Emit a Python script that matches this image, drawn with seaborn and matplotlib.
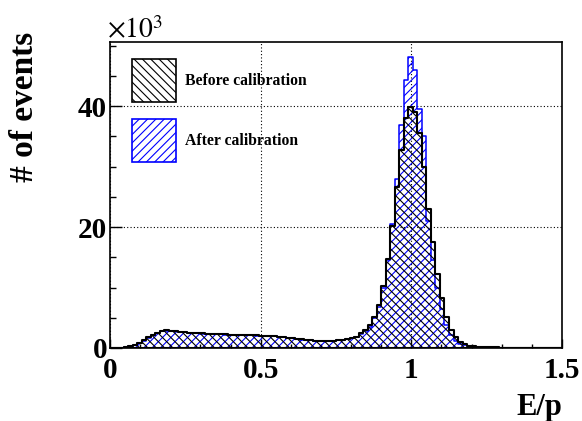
import numpy as np
import pandas as pd
import matplotlib
matplotlib.use("Agg")
import matplotlib.pyplot as plt
import seaborn as sns
from matplotlib.patches import Patch
from matplotlib.ticker import MultipleLocator, FuncFormatter

# Histogram binning of E/p
E_LOW, E_HIGH, N_BINS = 0.0, 1.5, 100

# Events per bin, in thousands
before_k = [
    0.02, 0.04, 0.08, 0.15, 0.25, 0.45, 0.80, 1.25, 1.75, 2.20,
    2.55, 2.80, 2.90, 2.85, 2.78, 2.70, 2.62, 2.55, 2.50, 2.45,
    2.40, 2.36, 2.33, 2.30, 2.27, 2.24, 2.22, 2.20, 2.18, 2.15,
    2.12, 2.10, 2.07, 2.05, 2.02, 1.98, 1.93, 1.87, 1.80, 1.72,
    1.62, 1.52, 1.42, 1.34, 1.27, 1.22, 1.20, 1.19, 1.20, 1.24,
    1.30, 1.38, 1.50, 1.65, 1.90, 2.40, 3.00, 3.80, 5.20, 7.10,
    10.20, 14.80, 20.10, 26.70, 32.70, 38.00, 39.90, 39.10, 35.50, 30.00,
    23.00, 17.50, 12.20, 8.20, 5.20, 3.00, 1.80, 1.00, 0.60, 0.40,
    0.28, 0.21, 0.16, 0.13, 0.11, 0.09, 0.08, 0.07, 0.06, 0.05,
    0.05, 0.04, 0.04, 0.03, 0.03, 0.03, 0.02, 0.02, 0.02, 0.02,
]
after_k = [
    0.02, 0.04, 0.08, 0.15, 0.25, 0.44, 0.78, 1.22, 1.72, 2.17,
    2.52, 2.77, 2.87, 2.83, 2.76, 2.68, 2.60, 2.53, 2.48, 2.43,
    2.38, 2.34, 2.31, 2.28, 2.25, 2.22, 2.20, 2.18, 2.16, 2.13,
    2.10, 2.08, 2.05, 2.03, 2.00, 1.96, 1.91, 1.85, 1.78, 1.70,
    1.60, 1.50, 1.40, 1.32, 1.25, 1.20, 1.18, 1.17, 1.18, 1.21,
    1.26, 1.33, 1.44, 1.60, 1.80, 2.25, 2.80, 3.50, 4.90, 6.80,
    10.00, 14.60, 20.50, 28.00, 36.80, 44.30, 48.20, 46.00, 39.50, 35.00,
    21.00, 14.50, 10.00, 6.50, 3.80, 2.20, 1.20, 0.70, 0.42, 0.28,
    0.20, 0.15, 0.12, 0.10, 0.08, 0.07, 0.06, 0.05, 0.05, 0.04,
    0.04, 0.03, 0.03, 0.03, 0.02, 0.02, 0.02, 0.02, 0.01, 0.01,
]
series_labels = ["Before calibration", "After calibration"]
x_ticks = [0, 0.5, 1, 1.5]
y_ticks = [0, 20, 40]

edges = np.linspace(E_LOW, E_HIGH, N_BINS + 1)
centers = 0.5 * (edges[:-1] + edges[1:])
bin_edges = [float(e) for e in edges]

df = pd.DataFrame({
    "ep": np.concatenate([centers, centers]),
    "k": before_k + after_k,
    "sample": [series_labels[0]] * N_BINS + [series_labels[1]] * N_BINS,
})

sns.set_theme(style="ticks")
plt.rcParams["font.family"] = ["Liberation Serif", "DejaVu Serif"]
plt.rcParams["mathtext.fontset"] = "stix"
plt.rcParams["hatch.linewidth"] = 0.8
for key in ("text.color", "axes.labelcolor", "xtick.color", "ytick.color",
            "axes.edgecolor"):
    plt.rcParams[key] = "black"

W, H = 582, 421
fig = plt.figure(figsize=(W / 100, H / 100), dpi=100)
fig.patch.set_facecolor("white")
ax = fig.add_axes([110 / W, 1 - 348 / H, 452 / W, 306 / H])
ax.set_facecolor("white")

BLUE = "#0000ff"
sns.histplot(data=df[df["sample"] == series_labels[1]], x="ep", weights="k",
             bins=bin_edges, element="step", fill=True, alpha=1, color=BLUE,
             facecolor="none", edgecolor=BLUE, hatch="////",
             linewidth=1.1, zorder=2, ax=ax)
sns.histplot(data=df[df["sample"] == series_labels[0]], x="ep", weights="k",
             bins=bin_edges, element="step", fill=True, alpha=1, color="black",
             facecolor="none", edgecolor="black", hatch="\\\\\\\\",
             linewidth=1.5, zorder=3, ax=ax)

ax.set_xlim(E_LOW, E_HIGH)
ax.set_ylim(0, 1.05 * max(max(before_k), max(after_k)))

ax.xaxis.set_major_locator(plt.FixedLocator(x_ticks))
ax.xaxis.set_minor_locator(MultipleLocator(0.1))
ax.yaxis.set_major_locator(plt.FixedLocator(y_ticks))
ax.yaxis.set_minor_locator(MultipleLocator(5))
ax.xaxis.set_major_formatter(FuncFormatter(lambda v, p: f"{v:g}"))
ax.yaxis.set_major_formatter(FuncFormatter(lambda v, p: f"{v:g}"))

ax.tick_params(axis="both", which="both", direction="in", colors="black",
               width=1.0, top=False, right=False)
ax.tick_params(axis="x", which="major", length=6.5, pad=6.5)
ax.tick_params(axis="x", which="minor", length=3.2)
ax.tick_params(axis="y", which="major", length=8.6, pad=2)
ax.tick_params(axis="y", which="minor", length=4.3)
for lab in ax.get_xticklabels() + ax.get_yticklabels():
    lab.set_fontsize(21)
    lab.set_fontweight("bold")
    lab.set_color("black")

for sp in ax.spines.values():
    sp.set_visible(True)
    sp.set_color("black")
    sp.set_linewidth(1.2)

ax.grid(True, which="major", color="black", linestyle=(0, (1, 2)), linewidth=0.8)
ax.set_axisbelow(True)

ax.set_xlabel("E/p", fontsize=22, fontweight="bold", ha="right", va="baseline",
              color="black")
ax.xaxis.set_label_coords(1.0, (348 - 415) / 306)
ax.set_ylabel("# of events", fontsize=24, fontweight="bold", ha="center",
              color="black")
ax.yaxis.set_label_coords((40 - 110) / 452, (348 - 107) / 306)

fig.text(107 / W, 1 - 38 / H, r"$\times10^{3}$", fontsize=20, ha="left",
         va="baseline", color="black")

handles = [
    Patch(facecolor="none", edgecolor="black", hatch="\\\\\\\\", linewidth=1.2),
    Patch(facecolor="none", edgecolor=BLUE, hatch="////", linewidth=1.2),
]
leg = ax.legend(handles, series_labels, loc="upper left",
                bbox_to_anchor=((131.7 - 110) / 452, (348 - 59.3) / 306),
                frameon=False,
                prop=dict(family="Liberation Serif", weight="bold", size=11.3),
                handlelength=2.8, handleheight=3.79, labelspacing=1.12,
                handletextpad=0.57, borderpad=0, borderaxespad=0)
for t in leg.get_texts():
    t.set_color("black")

fig.savefig("out.png", dpi=100, facecolor="white")
